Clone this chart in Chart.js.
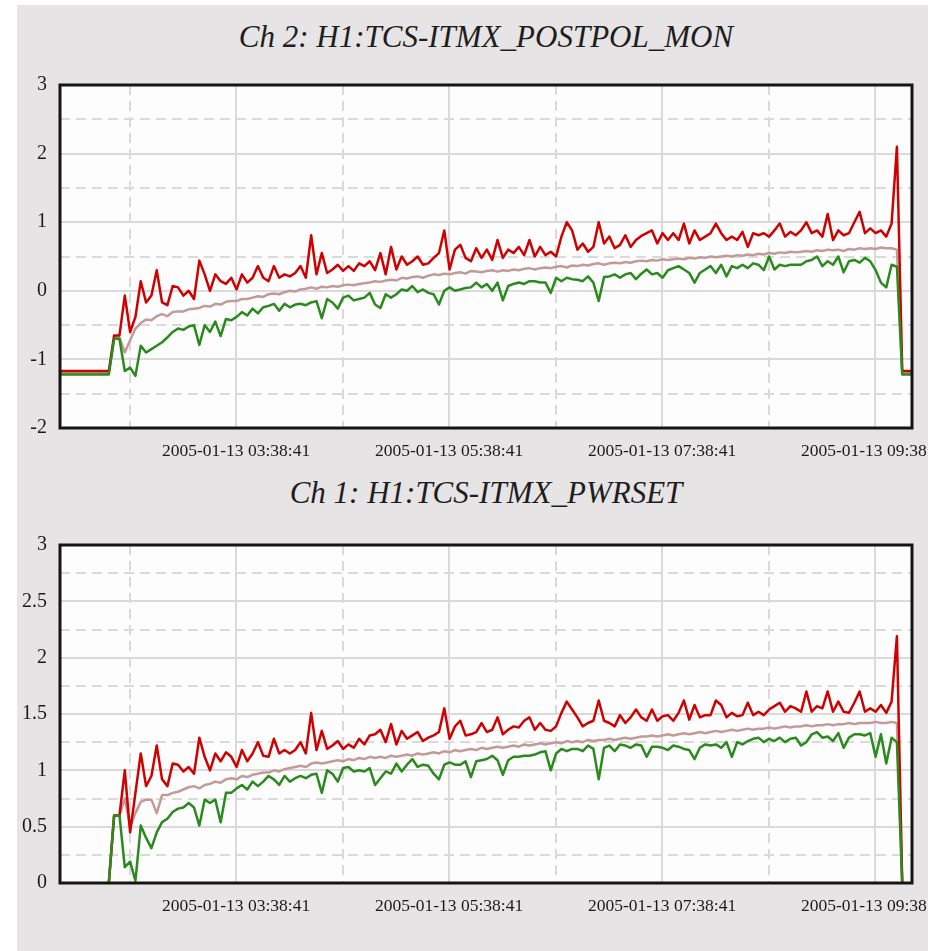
<!DOCTYPE html>
<html>
<head>
<meta charset="utf-8">
<script src="https://cdn.jsdelivr.net/npm/chart.js@4.4.1/dist/chart.umd.min.js"></script>
<style>
  html, body { margin: 0; padding: 0; background: #fff; overflow: hidden; }
  body { width: 928px; height: 951px; position: relative; }
  #panel { position: absolute; left: 17px; top: 5px; width: 911px; height: 946px; background: #e6e4e5; overflow: hidden; }
  .title { position: absolute; left: 0; width: 938px; text-align: center; font: italic 31px "Liberation Serif", serif; line-height: 36px; color: #1e1e1e; white-space: nowrap; }
  canvas { position: absolute; left: 0; }
</style>
</head>
<body>
<div id="panel">
  <div class="title" id="title2" style="top: 14px">Ch 2: H1:TCS-ITMX_POSTPOL_MON</div>
  <canvas id="chartTop" width="911" height="410" style="top: 55px"></canvas>
  <div class="title" id="title1" style="top: 470px">Ch 1: H1:TCS-ITMX_PWRSET</div>
  <canvas id="chartBottom" width="911" height="431" style="top: 515px"></canvas>
</div>
<script>
// time axis (2005-01-13), samples every 3 minutes
const hourTicks = ["02:38:41", "03:38:41", "04:38:41", "05:38:41", "06:38:41", "07:38:41", "08:38:41", "09:38:41"];
const axisRange = ["01:59:30", "09:59:30"];
const sampleStart = "02:00:00";
const sampleStep = 3;

// Ch 2: H1:TCS-ITMX_POSTPOL_MON
const ch2Max = [
  -1.17, -1.17, -1.17, -1.17, -1.17, -1.17, -1.17, -1.17, -1.17, -1.17, -0.65, -0.65,
  -0.07, -0.6, -0.38, 0.14, -0.17, -0.07, 0.3, -0.17, -0.21, 0.07,
  0.05, -0.07, 0.0, -0.12, 0.44, 0.24, 0.0, 0.24, 0.14, 0.1,
  0.19, 0.02, 0.24, 0.12, 0.19, 0.36, 0.19, 0.14, 0.36, 0.19,
  0.24, 0.21, 0.26, 0.36, 0.19, 0.81, 0.24, 0.55, 0.26, 0.31,
  0.38, 0.29, 0.36, 0.29, 0.4, 0.36, 0.43, 0.3, 0.55, 0.24,
  0.64, 0.31, 0.5, 0.38, 0.43, 0.5, 0.38, 0.4, 0.48, 0.55,
  0.88, 0.31, 0.6, 0.67, 0.48, 0.43, 0.62, 0.48, 0.6, 0.45,
  0.74, 0.48, 0.6, 0.55, 0.64, 0.52, 0.74, 0.5, 0.64, 0.52,
  0.57, 0.5, 0.79, 1.0, 0.88, 0.6, 0.69, 0.57, 0.64, 1.0,
  0.69, 0.79, 0.62, 0.67, 0.81, 0.64, 0.74, 0.8, 0.84, 0.88,
  0.69, 0.84, 0.74, 0.84, 0.74, 0.98, 0.69, 0.88, 0.74, 0.79,
  0.84, 0.98, 0.84, 0.74, 0.79, 0.74, 0.86, 0.64, 0.84, 0.81,
  0.84, 0.79, 0.88, 0.98, 0.79, 0.86, 0.81, 0.88, 1.0, 0.84,
  0.88, 0.79, 1.12, 0.74, 0.88, 0.81, 0.84, 1.0, 1.15, 0.84,
  0.91, 0.84, 0.88, 0.79, 0.98, 2.1,
  -1.17, -1.17, -1.17
];
const ch2Mean = [
  -1.2, -1.2, -1.2, -1.2, -1.2, -1.2, -1.2, -1.2, -1.2, -1.2, -0.68, -0.68,
  -0.9, -0.72, -0.55, -0.47, -0.42, -0.43, -0.37, -0.34, -0.37, -0.31,
  -0.3, -0.3, -0.27, -0.26, -0.25, -0.22, -0.23, -0.19, -0.2, -0.16,
  -0.15, -0.15, -0.12, -0.12, -0.1, -0.08, -0.09, -0.05, -0.04, -0.05,
  -0.02, 0.0, -0.01, 0.02, 0.03, 0.05, 0.03, 0.06, 0.05, 0.07,
  0.06, 0.08, 0.09, 0.08, 0.1, 0.11, 0.12, 0.14, 0.13, 0.15,
  0.16, 0.15, 0.19, 0.18, 0.2, 0.21, 0.19, 0.22, 0.24, 0.23,
  0.25, 0.24, 0.26, 0.27, 0.25, 0.29, 0.28, 0.27, 0.29, 0.3,
  0.28, 0.3, 0.29, 0.31, 0.3, 0.32, 0.33, 0.31, 0.33, 0.34,
  0.33, 0.35, 0.36, 0.34, 0.37, 0.36, 0.38, 0.37, 0.39, 0.4,
  0.38, 0.4, 0.41, 0.4, 0.42, 0.41, 0.43, 0.44, 0.43, 0.45,
  0.44, 0.46, 0.45, 0.46, 0.47, 0.46, 0.48, 0.47, 0.49, 0.48,
  0.5, 0.49, 0.5, 0.51, 0.5, 0.52, 0.51, 0.53, 0.52, 0.54,
  0.53, 0.55, 0.54, 0.56, 0.55, 0.57, 0.56, 0.57, 0.58, 0.57,
  0.59, 0.58, 0.6, 0.59, 0.6, 0.58, 0.61, 0.6, 0.62, 0.61,
  0.62, 0.61, 0.63, 0.62, 0.62, 0.6,
  -1.2, -1.2, -1.2
];
const ch2Min = [
  -1.22, -1.22, -1.22, -1.22, -1.22, -1.22, -1.22, -1.22, -1.22, -1.22, -0.7, -0.7,
  -1.17, -1.12, -1.24, -0.8, -0.9, -0.85, -0.8, -0.75, -0.68, -0.6,
  -0.55, -0.57, -0.52, -0.5, -0.79, -0.5, -0.6, -0.45, -0.66, -0.41,
  -0.43, -0.38, -0.31, -0.36, -0.26, -0.33, -0.24, -0.22, -0.19, -0.29,
  -0.19, -0.24, -0.2, -0.19, -0.21, -0.17, -0.15, -0.4, -0.12, -0.17,
  -0.26, -0.1, -0.07, -0.14, -0.12, -0.1, -0.03, -0.2, -0.25, -0.05,
  -0.1, -0.05, 0.02, 0.0, 0.07, -0.02, 0.02, -0.03, -0.05, -0.2,
  0.0, 0.05, 0.0, 0.02, 0.04, 0.05, 0.12, 0.05, 0.1, 0.0,
  0.12, -0.14, 0.07, 0.1, 0.12, 0.1, 0.14, 0.14, 0.12, 0.12,
  -0.03, 0.19, 0.14, 0.19, 0.17, 0.16, 0.14, 0.21, 0.12, -0.15,
  0.2, 0.21, 0.24, 0.19, 0.24, 0.26, 0.17, 0.25, 0.31, 0.24,
  0.26, 0.19, 0.3, 0.33, 0.36, 0.31, 0.26, 0.12, 0.26, 0.31,
  0.36, 0.26, 0.38, 0.21, 0.36, 0.33, 0.38, 0.33, 0.4, 0.38,
  0.3, 0.5, 0.31, 0.38, 0.36, 0.38, 0.38, 0.38, 0.43, 0.45,
  0.5, 0.36, 0.43, 0.38, 0.5, 0.27, 0.43, 0.45, 0.41, 0.48,
  0.43, 0.3, 0.12, 0.05, 0.38, 0.35,
  -1.22, -1.22, -1.22
];

// Ch 1: H1:TCS-ITMX_PWRSET
const ch1Max = [
  null, null, null, null, null, null, null, null, null, 0, 0.6, 0.6,
  1.0, 0.45, 0.8, 1.15, 0.86, 0.95, 1.22, 0.92, 0.86, 1.06,
  1.05, 0.99, 1.03, 0.97, 1.29, 1.12, 1.0, 1.15, 1.08, 1.16,
  1.12, 1.03, 1.18, 1.08, 1.15, 1.25, 1.13, 1.12, 1.28, 1.15,
  1.18, 1.15, 1.18, 1.25, 1.15, 1.51, 1.18, 1.35, 1.19, 1.22,
  1.26, 1.19, 1.23, 1.2, 1.28, 1.23, 1.31, 1.32, 1.36, 1.25,
  1.41, 1.23, 1.35, 1.28, 1.31, 1.34, 1.26, 1.29, 1.31, 1.34,
  1.55, 1.28, 1.39, 1.44, 1.31, 1.32, 1.34, 1.42, 1.34, 1.36,
  1.47, 1.32, 1.36, 1.39, 1.38, 1.44, 1.47, 1.36, 1.42, 1.36,
  1.35, 1.39, 1.51, 1.61, 1.54, 1.47, 1.39, 1.42, 1.44, 1.62,
  1.44, 1.42, 1.39, 1.49, 1.42, 1.47, 1.54, 1.47, 1.44, 1.54,
  1.44, 1.48, 1.49, 1.44, 1.51, 1.62, 1.45, 1.58, 1.47, 1.49,
  1.49, 1.62, 1.58, 1.47, 1.51, 1.48, 1.49, 1.6, 1.49, 1.52,
  1.49, 1.54, 1.57, 1.6, 1.52, 1.57, 1.55, 1.52, 1.7, 1.52,
  1.57, 1.55, 1.7, 1.52, 1.61, 1.52, 1.51, 1.6, 1.7, 1.52,
  1.55, 1.52, 1.58, 1.51, 1.61, 2.19,
  0, null, null
];
const ch1Mean = [
  null, null, null, null, null, null, null, null, null, 0, 0.6, 0.6,
  0.75, 0.5, 0.62, 0.72, 0.74, 0.74, 0.62, 0.78, 0.78, 0.8,
  0.81, 0.83, 0.85, 0.86, 0.84, 0.87, 0.88, 0.9, 0.89, 0.92,
  0.93, 0.92, 0.95, 0.94, 0.96, 0.97, 0.98, 0.98, 1.0, 0.99,
  1.01, 1.02, 1.03, 1.04, 1.03, 1.06, 1.07, 1.06, 1.07, 1.08,
  1.09, 1.08, 1.1, 1.09, 1.11, 1.1, 1.12, 1.11, 1.12, 1.11,
  1.13, 1.12, 1.13, 1.14, 1.13, 1.15, 1.14, 1.15, 1.16, 1.15,
  1.17, 1.16, 1.18, 1.17, 1.18, 1.19, 1.18, 1.2, 1.19, 1.2,
  1.21, 1.2, 1.21, 1.22, 1.21, 1.23, 1.22, 1.23, 1.24, 1.23,
  1.24, 1.25, 1.24, 1.26, 1.25, 1.26, 1.25, 1.27, 1.26, 1.27,
  1.27, 1.28, 1.27, 1.28, 1.29, 1.28, 1.29, 1.3, 1.3, 1.31,
  1.3, 1.31, 1.32, 1.31, 1.32, 1.33, 1.32, 1.33, 1.34, 1.33,
  1.34, 1.35, 1.34, 1.35, 1.36, 1.35, 1.36, 1.37, 1.36, 1.37,
  1.37, 1.38, 1.37, 1.38, 1.39, 1.38, 1.39, 1.39, 1.4, 1.39,
  1.4, 1.4, 1.41, 1.4, 1.41, 1.41, 1.42, 1.41, 1.42, 1.42,
  1.42, 1.43, 1.42, 1.42, 1.43, 1.42,
  0, null, null
];
const ch1Min = [
  null, null, null, null, null, null, null, null, null, 0, 0.6, 0.6,
  0.14, 0.19, 0.02, 0.51, 0.4, 0.31, 0.45, 0.54, 0.57, 0.63,
  0.66, 0.67, 0.71, 0.67, 0.51, 0.74, 0.71, 0.74, 0.54, 0.8,
  0.8, 0.84, 0.87, 0.83, 0.9, 0.86, 0.9, 0.95, 0.92, 0.87,
  0.95, 0.9, 0.93, 0.95, 0.93, 0.96, 0.97, 0.8, 1.0, 0.97,
  0.9, 1.02, 1.03, 0.99, 1.0, 0.99, 1.02, 0.87, 0.93, 0.99,
  0.97, 1.06, 0.99, 1.05, 1.1, 1.03, 1.05, 1.04, 0.97, 0.92,
  1.05, 1.07, 1.05, 1.05, 1.08, 0.94, 1.08, 1.09, 1.1, 1.13,
  1.09, 0.96, 1.09, 1.12, 1.12, 1.13, 1.13, 1.14, 1.16, 1.17,
  1.0, 1.15, 1.19, 1.17, 1.19, 1.19, 1.17, 1.22, 1.19, 0.92,
  1.2, 1.22, 1.17, 1.23, 1.22, 1.2, 1.23, 1.22, 1.12, 1.21,
  1.21, 1.2, 1.18, 1.22, 1.21, 1.19, 1.18, 1.1, 1.2, 1.23,
  1.22, 1.23, 1.2, 1.25, 1.12, 1.25, 1.23, 1.26, 1.28, 1.29,
  1.25, 1.28, 1.26, 1.29, 1.25, 1.28, 1.29, 1.22, 1.25, 1.32,
  1.34, 1.29, 1.3, 1.26, 1.33, 1.2, 1.29, 1.32, 1.32, 1.31,
  1.33, 1.12, 1.32, 1.06, 1.29, 1.25,
  0, null, null
];

function toMinutes(s) {
  const [h, m, sec] = s.split(":").map(Number);
  return h * 60 + m + sec / 60;
}

const t0 = toMinutes(sampleStart);
const tickMinutes = hourTicks.map(toMinutes);

function points(values) {
  return values.map((v, i) => ({ x: t0 + i * sampleStep, y: v }));
}

// plot background + black frame round the chart area
const framePlugin = {
  id: "frame",
  beforeDraw(chart) {
    const { ctx, chartArea: a } = chart;
    ctx.save();
    ctx.fillStyle = "#fdfdfd";
    ctx.fillRect(a.left, a.top, a.width, a.height);
    ctx.restore();
  },
  afterDatasetsDraw(chart) {
    const { ctx, chartArea: a } = chart;
    ctx.save();
    ctx.strokeStyle = "#151515";
    ctx.lineWidth = 3;
    ctx.strokeRect(a.left, a.top, a.width, a.height);
    ctx.restore();
  },
};

function makeChart(id, maxV, meanV, minV, yMin, yMax, yStep, labelStep, padTop, padBottom) {
  const isLabel = (v) => Math.abs(v / labelStep - Math.round(v / labelStep)) < 1e-6;
  return new Chart(document.getElementById(id), {
    type: "line",
    data: {
      datasets: [
        { label: "min", data: points(minV), borderColor: "#2a8a1e", order: 0 },
        { label: "max", data: points(maxV), borderColor: "#cf0000", order: 1 },
        { label: "mean", data: points(meanV), borderColor: "#c29b98", order: 2 },
      ],
    },
    options: {
      responsive: false,
      animation: false,
      events: [],
      layout: { padding: { left: 0, right: 16, top: padTop, bottom: padBottom } },
      elements: {
        line: { borderWidth: 2.5, tension: 0, borderJoinStyle: "round" },
        point: { radius: 0 },
      },
      plugins: { legend: { display: false }, tooltip: { enabled: false } },
      scales: {
        x: {
          type: "linear",
          min: toMinutes(axisRange[0]),
          max: toMinutes(axisRange[1]),
          afterBuildTicks: (s) => {
            s.ticks = tickMinutes.map((v) => ({ value: v }));
          },
          afterFit: (s) => {
            s.paddingLeft = 0;
            s.paddingRight = 0;
            s.height = 33;
          },
          ticks: {
            autoSkip: false,
            maxRotation: 0,
            padding: 13,
            color: "#1a1a1a",
            font: { family: "'Liberation Serif', serif", size: 17.5 },
            callback: (v, i) => (i % 2 === 1 ? "2005-01-13 " + hourTicks[i] : ""),
          },
          grid: { color: "#dadada", lineWidth: 2, drawTicks: false },
          border: {
            display: false,
            dash: (ctx) => (ctx.index % 2 === 1 ? [] : [10, 6]),
          },
        },
        y: {
          min: yMin,
          max: yMax,
          afterFit: (s) => {
            s.width = 43;
          },
          ticks: {
            stepSize: yStep,
            maxTicksLimit: 20,
            padding: 13,
            color: "#1a1a1a",
            font: { family: "'Liberation Serif', serif", size: 20 },
            callback: (v) => (isLabel(v) ? String(v) : ""),
          },
          grid: { color: "#dadada", lineWidth: 2, drawTicks: false },
          border: {
            display: false,
            dash: (ctx) => (ctx.tick && isLabel(ctx.tick.value) ? [] : [10, 6]),
          },
        },
      },
    },
    plugins: [framePlugin],
  });
}

makeChart("chartTop", ch2Max, ch2Mean, ch2Min, -2, 3, 0.5, 1, 19, 9);
makeChart("chartBottom", ch1Max, ch1Mean, ch1Min, 0, 3, 0.25, 0.5, 16, 35);
</script>
</body>
</html>
